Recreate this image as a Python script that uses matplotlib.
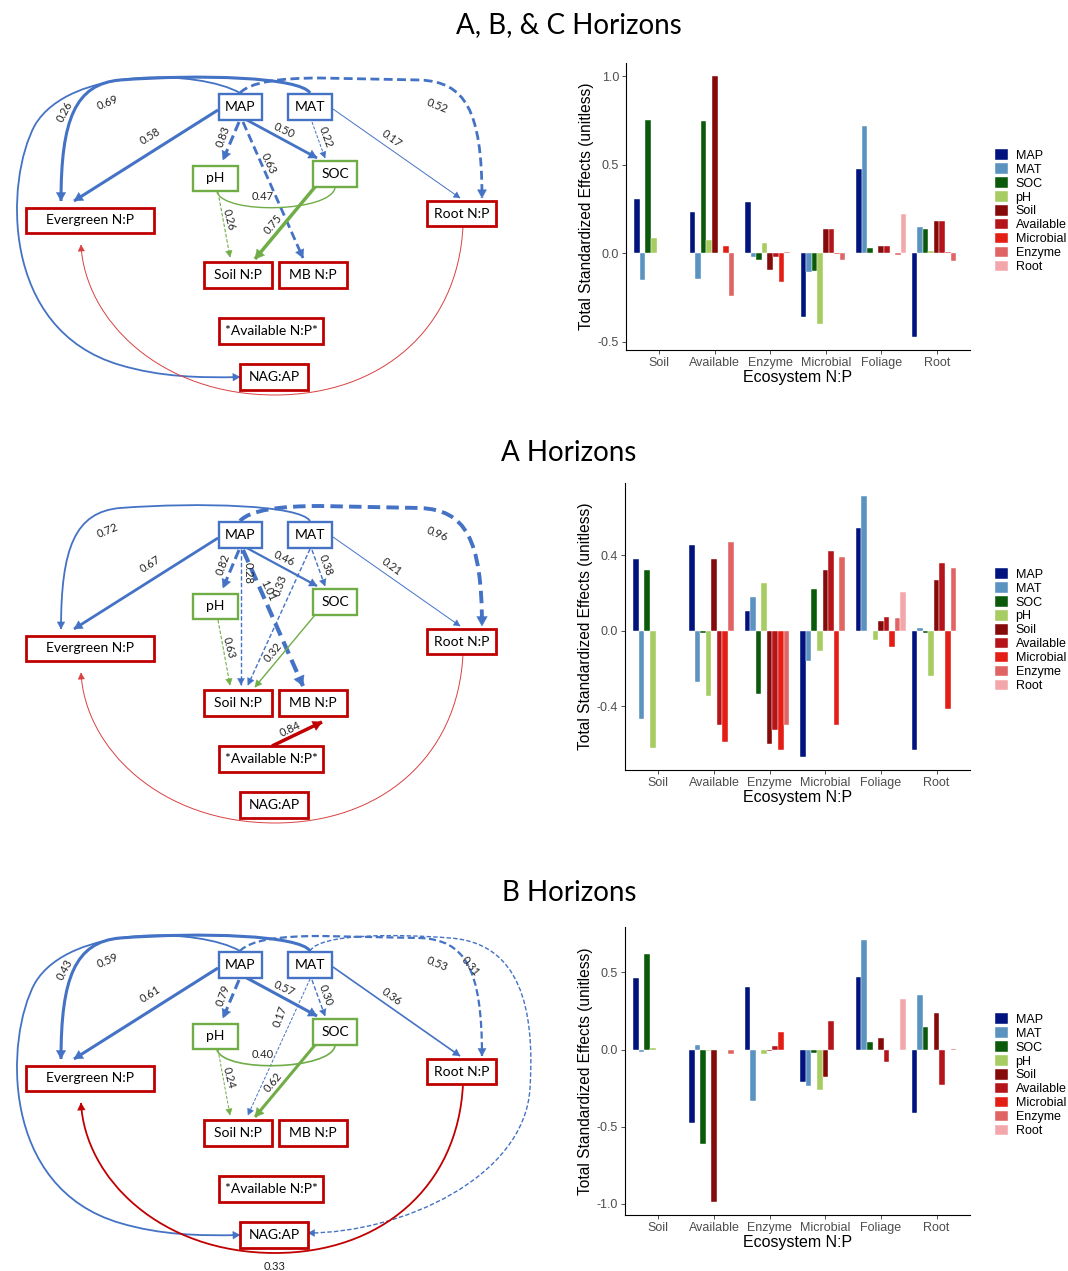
import numpy as np
import matplotlib
matplotlib.use("Agg")
import matplotlib.pyplot as plt
from matplotlib.path import Path
from matplotlib.patches import PathPatch, Rectangle, Polygon

plt.rcParams['axes.unicode_minus'] = False

# ---- bar chart data ----
groups = ['Soil', 'Available', 'Enzyme', 'Microbial', 'Foliage', 'Root']
series = ['MAP', 'MAT', 'SOC', 'pH', 'Soil', 'Available', 'Microbial', 'Enzyme', 'Root']
colors = ['#00137f', '#5a93c0', '#0b5a0b', '#a6cc62', '#850a0a',
          '#b5141a', '#e41e14', '#e06464', '#f4a7ab']
na = np.nan

# rows follow `series`, columns follow `groups`
effects_abc = [
    [0.306, 0.231, 0.291, -0.362, 0.475, -0.473],
    [-0.150, -0.145, -0.019, -0.109, 0.719, 0.145],
    [0.753, 0.747, -0.038, -0.100, 0.030, 0.139],
    [0.088, 0.073, 0.058, -0.400, 0.0, 0.010],
    [na, 1.000, -0.094, 0.137, 0.043, 0.182],
    [na, 0.003, -0.020, 0.137, 0.043, 0.182],
    [na, 0.038, -0.165, -0.005, 0.0, 0.005],
    [na, -0.244, 0.008, -0.036, -0.010, -0.043],
    [na, na, na, na, 0.220, na],
]
effects_a = [
    [0.381, 0.456, 0.104, -0.668, 0.543, -0.629],
    [-0.469, -0.271, 0.180, -0.162, 0.715, 0.016],
    [0.322, -0.010, -0.335, 0.220, 0.002, -0.011],
    [-0.620, -0.347, 0.256, -0.107, -0.049, -0.241],
    [na, 0.381, -0.597, 0.322, 0.055, 0.270],
    [na, -0.497, -0.527, 0.425, 0.074, 0.358],
    [na, -0.589, -0.629, -0.497, -0.085, -0.414],
    [na, 0.469, -0.497, 0.391, 0.069, 0.331],
    [na, na, na, na, 0.206, na],
]
effects_b = [
    [0.465, -0.476, 0.407, -0.208, 0.472, -0.411],
    [-0.013, 0.028, -0.331, -0.234, 0.710, 0.355],
    [0.617, -0.610, 0.0, -0.024, 0.048, 0.147],
    [0.009, -0.010, -0.030, -0.266, 0.0, 0.0],
    [na, -0.989, -0.011, -0.180, 0.076, 0.234],
    [na, 0.0, 0.022, 0.188, -0.078, -0.232],
    [na, -0.005, 0.113, 0.0, 0.0, 0.0],
    [na, -0.030, 0.0, -0.005, 0.0, 0.005],
    [na, na, na, na, 0.329, na],
]
yticks_abc = [-0.5, 0.0, 0.5, 1.0]
yticks_a = [-0.4, 0.0, 0.4]
yticks_b = [-1.0, -0.5, 0.0, 0.5]
titles = ['A, B, & C Horizons', 'A Horizons', 'B Horizons']

# ---- path diagram data: (edge, coefficient, line style, width) ----
paths_abc = [
    ('MAP>EVG', 0.58, '-', 2.2), ('MAT>EVG', 0.69, '-', 2.2),
    ('MAP>NAG', 0.26, '-', 1.3), ('MAP>ROOT', 0.52, '--', 2.0),
    ('MAT>ROOT', 0.17, '-', 0.7), ('MAP>SOC', 0.50, '-', 2.0),
    ('MAT>SOC', 0.22, '--', 0.7), ('MAP>PH', 0.83, '--', 2.2),
    ('MAP>MB', 0.63, '--', 2.0), ('PH~SOC', 0.47, '-', 1.0),
    ('PH>SOIL', 0.26, '--', 0.8), ('SOC>SOIL', 0.75, '-', 2.5),
    ('ROOT>EVG', None, '-', 0.7),
]
paths_a = [
    ('MAP>EVG', 0.67, '-', 2.0), ('MAT>EVG', 0.72, '-', 1.3),
    ('MAP>ROOT', 0.96, '--', 2.8), ('MAT>ROOT', 0.21, '-', 0.7),
    ('MAP>SOC', 0.46, '-', 1.6), ('MAT>SOC', 0.38, '--', 1.0),
    ('MAP>PH', 0.82, '--', 2.2), ('MAP>SOIL', 0.28, '--', 1.0),
    ('MAP>MB', 1.01, '--', 3.0), ('MAT>SOIL', 0.33, '--', 1.0),
    ('PH>SOIL', 0.63, '--', 0.8), ('SOC>SOIL', 0.32, '-', 1.0),
    ('AVL>MB', 0.84, '-', 2.5), ('ROOT>EVG', None, '-', 0.7),
]
paths_b = [
    ('MAP>EVG', 0.61, '-', 2.2), ('MAT>EVG', 0.59, '-', 2.2),
    ('MAP>NAG', 0.43, '-', 1.3), ('MAP>ROOT', 0.53, '--', 1.6),
    ('MAT>NAG', 0.31, '--', 1.0), ('MAT>ROOT', 0.36, '-', 1.2),
    ('MAP>SOC', 0.57, '-', 2.2), ('MAT>SOC', 0.30, '--', 1.0),
    ('MAP>PH', 0.79, '--', 2.2), ('MAT>SOIL', 0.17, '--', 0.7),
    ('PH~SOC', 0.40, '-', 1.2), ('PH>SOIL', 0.24, '--', 0.7),
    ('SOC>SOIL', 0.62, '-', 2.2), ('ROOT>EVG', 0.33, '-', 1.3),
]

# node boxes: label, centre x, centre y, width, height (pixels, first diagram)
nodes = {
    'MAP': ('MAP', 240.5, 107, 43, 26, 'b'),
    'MAT': ('MAT', 310, 107, 44, 26, 'b'),
    'PH': ('pH', 215.5, 178, 45, 25, 'g'),
    'SOC': ('SOC', 335, 174, 44, 26, 'g'),
    'EVG': ('Evergreen N:P', 90, 220.5, 128, 25, 'r'),
    'ROOT': ('Root N:P', 461.5, 213.5, 69, 25, 'r'),
    'SOIL': ('Soil N:P', 238, 275, 68, 26, 'r'),
    'MB': ('MB N:P', 313, 275, 68, 26, 'r'),
    'AVL': ('*Available N:P*', 271, 331, 104, 26, 'r'),
    'NAG': ('NAG:AP', 274, 377, 68, 26, 'r'),
}
node_colors = {'b': '#4472c4', 'g': '#70ad47', 'r': '#c00000'}

# edge geometry: start point, then points (line) or [c1, c2, end] (cubic)
geometry = {
    'MAP>EVG': ([(218, 110), (74, 201)], (150, 136), 32),
    'MAT>EVG': ([(310, 93), [(300, 77), (200, 74), (120, 80)],
                 [(75, 84), (61, 120), (61, 201)]], (108, 103), 22),
    'MAP>NAG': ([(240, 93), [(200, 70), (70, 66), (35, 125)],
                 [(5, 180), (0, 330), (120, 365)],
                 [(160, 377), (200, 378), (240, 377)]], (65, 112), 62),
    'MAP>ROOT': ([(240, 93), [(250, 82), (280, 78), (320, 78)], (420, 80),
                  [(465, 82), (482, 110), (482, 198)]], (437, 106), -22),
    'MAT>ROOT': ([(333, 109), (460, 198)], (392, 139), -36),
    'MAP>SOC': ([(245, 119), (317, 158)], (284, 131), -25),
    'MAT>SOC': ([(312, 122), (325, 158)], (326, 137), -70),
    'MAP>PH': ([(239, 122), (223, 160)], (223, 137), 70),
    'MAP>MB': ([(243, 122), (303, 258)], (268, 163), -65),
    'MAP>SOIL': ([(241, 121), (241, 257)], (248, 145), -90),
    'MAT>SOIL': ([(310, 121), (248, 257)], (280, 158), 70),
    'PH~SOC': ([(217, 192), [(225, 215), (330, 212), (335, 188)]], (263, 197), 0),
    'PH>SOIL': ([(218, 192), (230, 257)], (229, 220), -75),
    'SOC>SOIL': ([(315, 187), (255, 259)], (273, 224), 50),
    'AVL>MB': ([(272, 318), (322, 294)], (290, 301), 25),
    'ROOT>EVG': ([(463, 226), [(458, 330), (380, 395), (275, 395)],
                  [(160, 395), (85, 320), (81, 245)]], (275, 409), 0),
    'MAT>NAG': ([(310, 93), [(320, 75), (400, 76), (450, 80)],
                 [(520, 85), (535, 150), (530, 230)],
                 [(525, 320), (400, 375), (308, 375)]], (470, 108), -50),
}
diagram_offsets = [0, 428, 858]
title_y = [25, 453, 893]

W, H = 1068, 1271
fig = plt.figure(figsize=(W / 100, H / 100), dpi=100)
ax0 = fig.add_axes([0, 0, 1, 1])
ax0.set_xlim(0, W)
ax0.set_ylim(H, 0)
ax0.axis('off')

dfont = 'Lato'


def build_path(spec, dy):
    verts = [(spec[0][0], spec[0][1] + dy)]
    codes = [Path.MOVETO]
    for seg in spec[1:]:
        if isinstance(seg, list):
            verts += [(x, y + dy) for x, y in seg]
            codes += [Path.CURVE4] * 3
        else:
            verts.append((seg[0], seg[1] + dy))
            codes.append(Path.LINETO)
    return verts, codes


def edge_color(key):
    src = key.split('>')[0].split('~')[0]
    if src in ('MAP', 'MAT'):
        return '#4472c4'
    if src in ('PH', 'SOC'):
        return '#70ad47'
    if key == 'ROOT>EVG':
        return '#d94040'
    return '#c00000'


def draw_diagram(edges, dy):
    for key, coef, ls, lw in edges:
        spec, lab, rot = geometry[key]
        col = edge_color(key)
        if key == 'ROOT>EVG' and lw > 1:
            col = '#c00000'
        verts, codes = build_path(spec, dy)
        style = (0, (3.2, 1.6)) if ls == '--' else '-'
        ax0.add_patch(PathPatch(Path(verts, codes), fill=False, ec=col, lw=lw,
                                ls=style, capstyle='butt', zorder=2))
        if '>' in key:
            (x1, y1), (x2, y2) = verts[-2], verts[-1]
            d = np.hypot(x2 - x1, y2 - y1)
            ux, uy = (x2 - x1) / d, (y2 - y1) / d
            hl = 5 + lw * 1.6
            hw = 2.5 + lw * 1.0
            bx, by = x2 - ux * hl, y2 - uy * hl
            tri = [(x2, y2), (bx - uy * hw, by + ux * hw), (bx + uy * hw, by - ux * hw)]
            ax0.add_patch(Polygon(tri, closed=True, fc=col, ec=col, lw=0.3, zorder=2))
        if coef is not None:
            ax0.text(lab[0], lab[1] + dy, f'{coef:.2f}', fontsize=8, family=dfont,
                     rotation=rot, ha='center', va='center', color='#222222', zorder=4)
    for key, (txt, cx, cy, w, h, c) in nodes.items():
        lwb = 2.0 if c == 'r' else 1.7
        ax0.add_patch(Rectangle((cx - w / 2, cy - h / 2 + dy), w, h, fc='white',
                                ec=node_colors[c], lw=lwb, zorder=3))
        ax0.text(cx, cy + dy, txt, fontsize=10, family=dfont, ha='center',
                 va='center', color='black', zorder=5)


for edges, dy, ty, title in zip([paths_abc, paths_a, paths_b], diagram_offsets,
                                 title_y, titles):
    draw_diagram(edges, dy)
    ax0.text(569, ty, title, fontsize=20, family=dfont, ha='center', va='center')

# ---- bar charts ----
bar_boxes = [(626, 63, 970, 350), (625, 483, 970, 770), (625, 927, 970, 1215)]
legend_tops = [149, 568, 1013]
bfont = 'Liberation Sans'
x = np.arange(len(groups))
wbar = 0.1
for eff, yt, (l, t, r, b), lt in zip([effects_abc, effects_a, effects_b],
                                     [yticks_abc, yticks_a, yticks_b],
                                     bar_boxes, legend_tops):
    ax = fig.add_axes([l / W, 1 - b / H, (r - l) / W, (b - t) / H])
    for i, (name, col) in enumerate(zip(series, colors)):
        vals = np.array(eff[i], dtype=float)
        ok = ~np.isnan(vals)
        ax.bar(x[ok] + (i - 4) * wbar, vals[ok], width=wbar, color=col,
               edgecolor='white', linewidth=0.3, label=name)
    ax.set_xlim(-0.6, 5.6)
    ax.margins(y=0.05)
    ax.set_xticks(x)
    ax.set_xticklabels(groups, family=bfont, fontsize=9, color='#4d4d4d')
    ax.set_yticks(yt)
    ax.set_yticklabels([f'{v:.1f}' for v in yt], family=bfont, fontsize=9,
                       color='#4d4d4d')
    ax.tick_params(length=3, width=0.6, color='#333333', pad=2)
    for s in ('top', 'right'):
        ax.spines[s].set_visible(False)
    for s in ('left', 'bottom'):
        ax.spines[s].set_linewidth(0.8)
    ax.set_xlabel('Ecosystem N:P', family=bfont, fontsize=11.5, labelpad=1)
    ax.set_ylabel('Total Standardized Effects (unitless)', family=bfont,
                  fontsize=11.2, labelpad=3)
    ax.legend(loc='upper left', bbox_to_anchor=(995 / W, 1 - lt / H),
              bbox_transform=fig.transFigure, frameon=False,
              prop={'family': bfont, 'size': 9}, handlelength=1.05,
              handleheight=0.95, labelspacing=0.1, handletextpad=0.6,
              borderaxespad=0, borderpad=0)

fig.savefig('out.png', dpi=100, facecolor='white')
